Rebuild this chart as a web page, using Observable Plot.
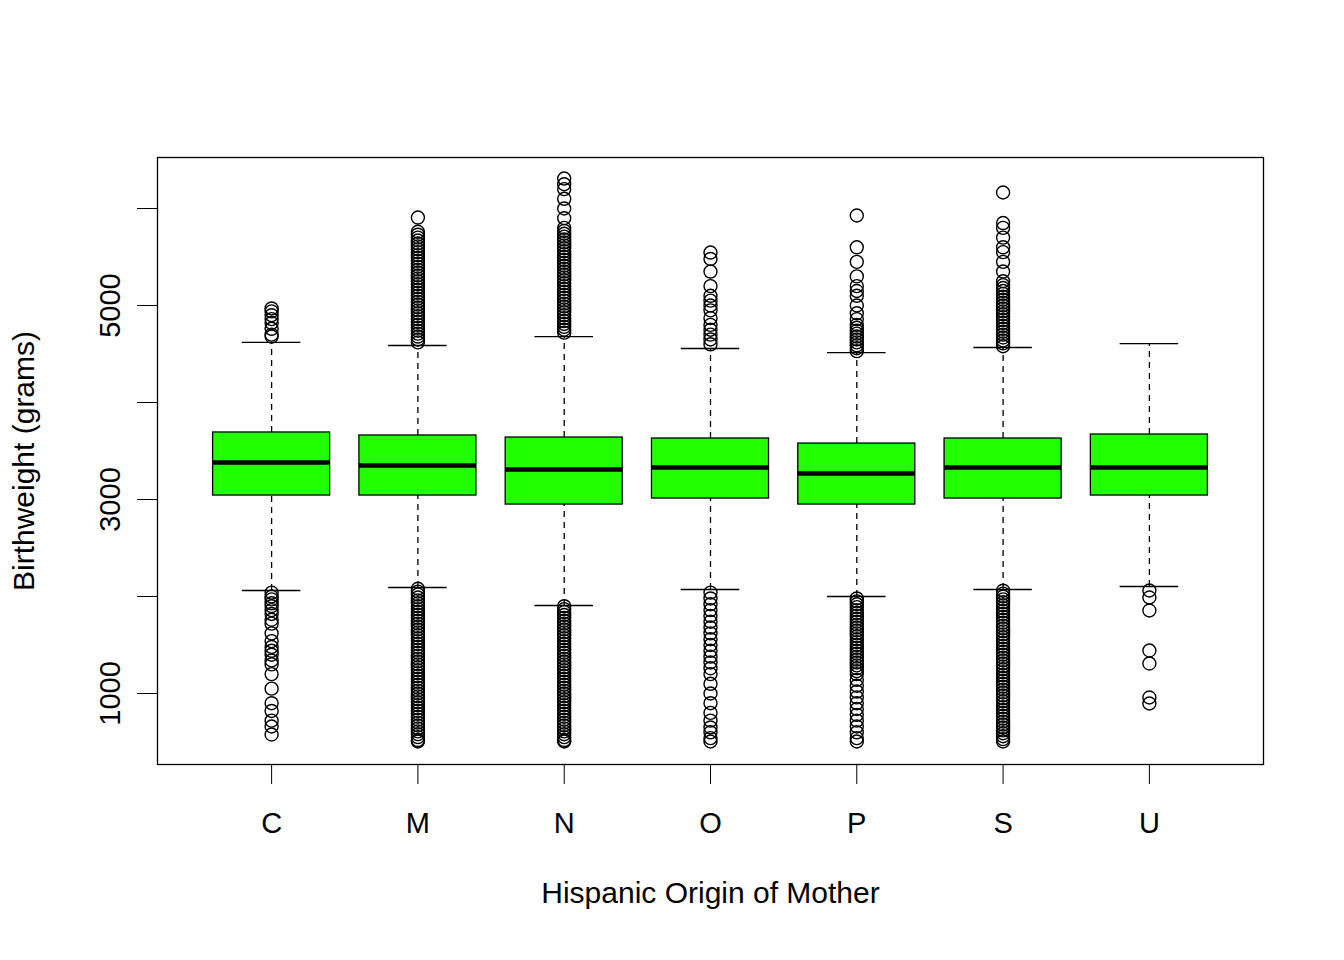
<!DOCTYPE html>
<html><head><meta charset="utf-8">
<script src="https://cdn.jsdelivr.net/npm/d3@7"></script>
<script src="https://cdn.jsdelivr.net/npm/@observablehq/plot@0.6"></script>
<style>body{margin:0;background:#fff}</style>
</head><body><div id="chart"></div>
<script>
const groups = ["C", "M", "N", "O", "P", "S", "U"];
const q1 =  [3041, 3041, 2948, 3010, 2948, 3010, 3041];
const med = [3381, 3351, 3309, 3330, 3268, 3330, 3330];
const q3 =  [3691, 3660, 3639, 3629, 3577, 3629, 3670];
const lo =  [2062, 2093, 1907, 2072, 2000, 2072, 2103];
const hi =  [4619, 4588, 4680, 4557, 4515, 4567, 4608];
const outliers = [
  [4970, 4940, 4900, 4860, 4820, 4760, 4700, 4680,
   2040, 2000, 1970, 1930, 1900, 1860, 1820, 1760, 1720, 1620, 1540, 1480, 1440, 1400, 1340, 1300, 1200, 1050, 900, 820, 720, 660, 577],
  [4620, 4650, 4680, 4710, 4740, 4770, 4800, 4830, 4860, 4890, 4920, 4950, 4980, 5010, 5040, 5070, 5100, 5130, 5160, 5190, 5220, 5250, 5280, 5310, 5340, 5370, 5400, 5430, 5460, 5490, 5520, 5550, 5580, 5610, 5640, 5670, 5700, 5730, 5760, 5907,
   2080, 2050, 2020, 1990, 1960, 1930, 1900, 1870, 1840, 1810, 1780, 1750, 1720, 1690, 1660, 1630, 1600, 1570, 1540, 1510, 1480, 1450, 1420, 1390, 1360, 1330, 1300, 1270, 1240, 1210, 1180, 1150, 1120, 1090, 1060, 1030, 1000, 970, 940, 910, 880, 850, 820, 790, 760, 730, 700, 670, 640, 610, 580, 550, 520, 505],
  [4720, 4750, 4780, 4810, 4840, 4870, 4900, 4930, 4960, 4990, 5020, 5050, 5080, 5110, 5140, 5170, 5200, 5230, 5260, 5290, 5320, 5350, 5380, 5410, 5440, 5470, 5500, 5530, 5560, 5590, 5620, 5650, 5680, 5710, 5740, 5770, 5800, 5900, 6000, 6100, 6200, 6250, 6309,
   1900, 1870, 1840, 1810, 1780, 1750, 1720, 1690, 1660, 1630, 1600, 1570, 1540, 1510, 1480, 1450, 1420, 1390, 1360, 1330, 1300, 1270, 1240, 1210, 1180, 1150, 1120, 1090, 1060, 1030, 1000, 970, 940, 910, 880, 850, 820, 790, 760, 730, 700, 670, 640, 610, 580, 550, 520, 505],
  [4600, 4650, 4700, 4750, 4800, 4870, 4950, 5000, 5050, 5100, 5200, 5350, 5480, 5546,
   2040, 1980, 1920, 1860, 1800, 1740, 1680, 1620, 1560, 1500, 1440, 1380, 1320, 1260, 1200, 1100, 1000, 900, 800, 720, 650, 600, 540, 505],
  [4530, 4560, 4590, 4620, 4650, 4680, 4710, 4740, 4770, 4800, 4860, 4920, 5000, 5100, 5150, 5200, 5300, 5450, 5600, 5928,
   1980, 1950, 1920, 1890, 1860, 1830, 1800, 1770, 1740, 1710, 1680, 1650, 1620, 1590, 1560, 1530, 1500, 1470, 1440, 1410, 1380, 1350, 1320, 1290, 1260, 1230, 1200, 1140, 1080, 1020, 960, 900, 840, 780, 720, 660, 600, 540, 505],
  [4580, 4610, 4640, 4670, 4700, 4730, 4760, 4790, 4820, 4850, 4880, 4910, 4940, 4970, 5000, 5030, 5060, 5090, 5120, 5150, 5180, 5210, 5250, 5350, 5450, 5550, 5600, 5700, 5800, 5850, 6165,
   2060, 2030, 2000, 1970, 1940, 1910, 1880, 1850, 1820, 1790, 1760, 1730, 1700, 1670, 1640, 1610, 1580, 1550, 1520, 1490, 1460, 1430, 1400, 1370, 1340, 1310, 1280, 1250, 1220, 1190, 1160, 1130, 1100, 1070, 1040, 1010, 980, 950, 920, 890, 860, 830, 800, 770, 740, 710, 680, 650, 620, 590, 560, 530, 505],
  [2062, 1990, 1856, 1443, 1309, 959, 897]
];
const yTicks = [1000, 2000, 3000, 4000, 5000, 6000];

const boxes = groups.map((g, i) => ({ g, x: i + 1, q1: q1[i], med: med[i], q3: q3[i], lo: lo[i], hi: hi[i] }));
const pts = outliers.flatMap((vals, i) => vals.map(v => ({ x: i + 1, v })));

const chart = Plot.plot({
  width: 1344,
  height: 960,
  marginTop: 157,
  marginBottom: 196,
  marginLeft: 157,
  marginRight: 81,
  style: { fontFamily: "Liberation Sans, Arial, sans-serif", fontSize: "29px", color: "black", background: "white" },
  x: { domain: [0.22, 7.78] },
  y: { domain: [268, 6526] },
  marks: [
    Plot.frame({ stroke: "black", strokeWidth: 1.3 }),
    Plot.ruleX(boxes, { x: "x", y1: "q3", y2: "hi", strokeDasharray: "6,5", strokeWidth: 1.3 }),
    Plot.ruleX(boxes, { x: "x", y1: "lo", y2: "q1", strokeDasharray: "6,5", strokeWidth: 1.3 }),
    Plot.ruleY(boxes, { y: "hi", x1: d => d.x - 0.2, x2: d => d.x + 0.2, strokeWidth: 1.3 }),
    Plot.ruleY(boxes, { y: "lo", x1: d => d.x - 0.2, x2: d => d.x + 0.2, strokeWidth: 1.3 }),
    Plot.rect(boxes, { x1: d => d.x - 0.4, x2: d => d.x + 0.4, y1: "q1", y2: "q3", fill: "#22ff00", stroke: "black", strokeWidth: 1.3 }),
    Plot.ruleY(boxes, { y: "med", x1: d => d.x - 0.4, x2: d => d.x + 0.4, strokeWidth: 4.5 }),
    Plot.dot(pts, { x: "x", y: "v", r: 6.5, stroke: "black", strokeWidth: 1.4, fill: "none" }),
    Plot.axisX({ ticks: [1, 2, 3, 4, 5, 6, 7], tickFormat: i => groups[i - 1], tickSize: 20, tickPadding: 28, fontSize: 29, label: null }),
    Plot.axisY({ ticks: yTicks, tickFormat: v => (v % 2000 === 1000 ? String(v) : ""), tickSize: 20, tickPadding: 18, tickRotate: -90, fontSize: 29, label: null }),
    Plot.text(["Hispanic Origin of Mother"], { frameAnchor: "bottom", dy: 138, fontSize: 30 }),
    Plot.text(["Birthweight (grams)"], { frameAnchor: "left", dx: -133, rotate: -90, textAnchor: "middle", fontSize: 30 })
  ]
});
document.getElementById("chart").replaceChildren(chart);
</script>
</body></html>
